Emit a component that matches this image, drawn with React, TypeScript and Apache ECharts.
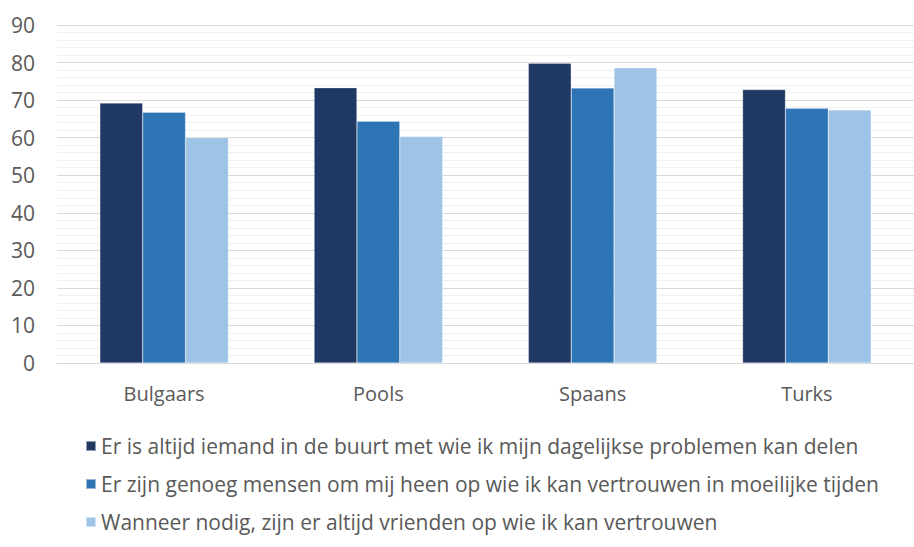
import React, { useEffect, useRef } from "react";
import * as echarts from "echarts";

const categories = ["Bulgaars", "Pools", "Spaans", "Turks"];
const seriesNames = [
  "Er is altijd iemand in de buurt met wie ik mijn dagelijkse problemen kan delen",
  "Er zijn genoeg mensen om mij heen op wie ik kan vertrouwen in moeilijke tijden",
  "Wanneer nodig, zijn er altijd vrienden op wie ik kan vertrouwen",
];
const series1 = [69.2, 73.3, 79.8, 72.8];
const series2 = [66.8, 64.4, 73.2, 67.8];
const series3 = [60.0, 60.3, 78.6, 67.4];
const colors = ["#203864", "#2E75B6", "#9DC3E6"];
const yTicks = { min: 0, max: 90, interval: 10 };

export default function App() {
  const ref = useRef<HTMLDivElement>(null);
  useEffect(() => {
    if (!ref.current) return;
    const chart = echarts.init(ref.current, null, { renderer: "svg" });
    const font = "'Open Sans', 'Noto Sans', sans-serif";
    const data = [series1, series2, series3];
    chart.setOption({
      animation: false,
      textStyle: { fontFamily: font },
      grid: { left: 57, top: 25, width: 867, height: 338 },
      xAxis: {
        type: "category",
        data: categories,
        axisLine: { show: true, lineStyle: { color: "#d9d9d9", width: 1 } },
        axisTick: { show: false },
        axisLabel: { color: "#595959", fontSize: 20, fontFamily: font, margin: 20 },
      },
      yAxis: {
        type: "value",
        min: yTicks.min,
        max: yTicks.max,
        interval: yTicks.interval,
        axisLine: { show: false },
        axisTick: { show: false },
        axisLabel: { color: "#595959", fontSize: 21, fontFamily: font, margin: 22 },
        splitLine: { show: true, lineStyle: { color: "#d9d9d9", width: 1 } },
        minorTick: { show: false, splitNumber: 5 },
        minorSplitLine: { show: true, lineStyle: { color: "#f0f0f0", width: 1 } },
      },
      legend: {
        orient: "vertical",
        left: 80,
        top: 429,
        itemWidth: 10,
        itemHeight: 10,
        itemGap: 14,
        icon: "rect",
        textStyle: { color: "#595959", fontSize: 21, fontFamily: font, lineHeight: 24 },
        data: seriesNames,
      },
      series: seriesNames.map((name, i) => ({
        name,
        type: "bar",
        data: data[i],
        barGap: "0%",
        barCategoryGap: "40%",
        itemStyle: { color: colors[i], borderColor: "rgba(255,255,255,0.5)", borderWidth: 0.5 },
      })),
    });
    return () => chart.dispose();
  }, []);
  return <div ref={ref} style={{ width: 914, height: 547, position: "absolute", left: 0, top: 0 }} />;
}
